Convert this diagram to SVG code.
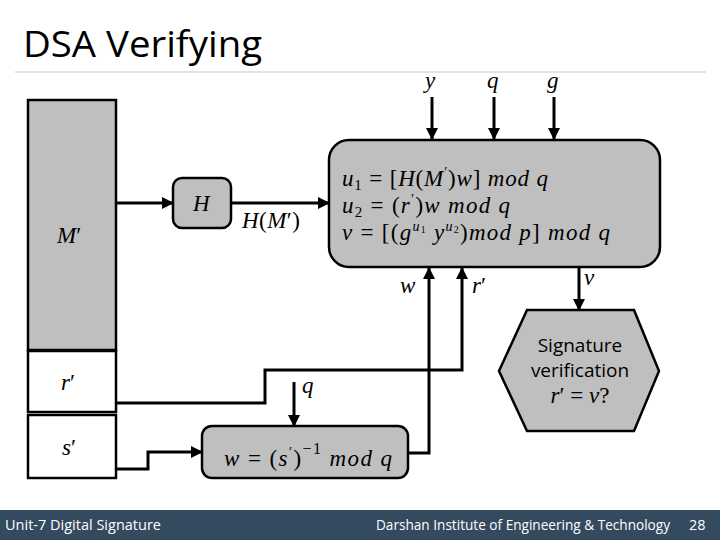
<svg xmlns="http://www.w3.org/2000/svg" width="720" height="540" viewBox="0 0 720 540">
<defs>
<marker id="ah" markerWidth="12" markerHeight="12" refX="11" refY="6" orient="auto" markerUnits="userSpaceOnUse">
<path d="M0,0 L12,6 L0,12 z" fill="#000"/>
</marker>
<style>
.box{fill:#bfbfbf;stroke:#000;stroke-width:2.5}
.cell{fill:#fff;stroke:#000;stroke-width:2.5}
.con{fill:none;stroke:#000;stroke-width:3;marker-end:url(#ah)}
.m{font-family:"Liberation Serif","DejaVu Serif",serif;font-style:italic;font-size:23px;fill:#000}
.n{font-style:normal}
.sub{font-size:15px;font-style:normal}
.sup{font-size:14px}
.lbl{font-family:"Open Sans","Liberation Sans",sans-serif;font-size:19px;fill:#000}
.ft{font-family:"Open Sans","Liberation Sans",sans-serif;font-size:14.5px;fill:#fff}
</style>
</defs>
<rect width="720" height="540" fill="#fff"/>
<text x="23" y="57" font-family="'Open Sans','Liberation Sans',sans-serif" font-size="37" fill="#000" textLength="239" lengthAdjust="spacingAndGlyphs">DSA Verifying</text>
<line x1="15" y1="72" x2="706" y2="72" stroke="#d9d9d9" stroke-width="1.5"/>

<g id="connectors">
<line class="con" x1="432" y1="97" x2="432" y2="139"/>
<line class="con" x1="494" y1="97" x2="494" y2="139"/>
<line class="con" x1="554" y1="97" x2="554" y2="139"/>
<line class="con" x1="116" y1="203" x2="173" y2="203"/>
<line class="con" x1="231" y1="203" x2="329" y2="203"/>
<polyline class="con" points="116,403 265,403 265,370 462,370 462,268"/>
<polyline class="con" points="116,469 148,469 148,452 202,452"/>
<polyline class="con" points="408,453 429,453 429,268"/>
<line class="con" x1="294" y1="382" x2="294" y2="426"/>
<line class="con" x1="579" y1="268" x2="579" y2="310"/>
</g>

<g id="labels" class="m">
<text x="425" y="88">y</text>
<text x="487" y="88">q</text>
<text x="547" y="88">g</text>
<text x="242" y="228" textLength="58" lengthAdjust="spacing">H<tspan class="n">(</tspan>M<tspan class="n">′)</tspan></text>
<text x="400" y="293">w</text>
<text x="472" y="293">r<tspan class="n">′</tspan></text>
<text x="584" y="285">v</text>
<text x="302" y="393">q</text>
</g>

<g id="msg">
<rect class="box" x="28" y="100" width="88" height="250"/>
<text class="m" x="57" y="243">M<tspan class="n">′</tspan></text>
</g>
<g id="rcell">
<rect class="cell" x="28" y="351" width="88" height="61"/>
<text class="m" x="61" y="390">r<tspan class="n">′</tspan></text>
</g>
<g id="scell">
<rect class="cell" x="28" y="415" width="88" height="63"/>
<text class="m" x="62" y="455">s<tspan class="n">′</tspan></text>
</g>

<g id="hash">
<rect class="box" x="173" y="178" width="58" height="50" rx="9"/>
<text class="m" x="193" y="211">H</text>
</g>

<g id="compute">
<rect class="box" x="329" y="140" width="331" height="127" rx="20"/>
<text class="m" x="342" y="186" textLength="206" lengthAdjust="spacing">u<tspan class="sub" dy="4">1</tspan><tspan class="n" dy="-4"> = [</tspan>H<tspan class="n">(</tspan>M<tspan class="sup n" dy="-9">′</tspan><tspan class="n" dy="9">)</tspan>w<tspan class="n">]</tspan> mod q</text>
<text class="m" x="342" y="213" textLength="168" lengthAdjust="spacing">u<tspan class="sub" dy="4">2</tspan><tspan class="n" dy="-4"> = (</tspan>r<tspan class="sup n" dy="-9">′</tspan><tspan class="n" dy="9">)</tspan>w mod q</text>
<text class="m" x="342" y="240" textLength="268" lengthAdjust="spacing">v <tspan class="n">= [(</tspan>g<tspan class="sup" dy="-9">u</tspan><tspan class="n" font-size="10" dy="2">1</tspan><tspan dy="7"> y</tspan><tspan class="sup" dy="-9">u</tspan><tspan class="n" font-size="10" dy="2">2</tspan><tspan class="n" dy="7">)</tspan>mod p<tspan class="n">]</tspan> mod q</text>
</g>

<g id="winv">
<rect class="box" x="202" y="426" width="206" height="52" rx="10"/>
<text class="m" x="224" y="466" textLength="168" lengthAdjust="spacing">w <tspan class="n">= (</tspan>s<tspan class="sup n" dy="-9">′</tspan><tspan class="n" dy="9">)</tspan><tspan class="n" font-size="16" dy="-12">−1</tspan><tspan dy="12"> mod q</tspan></text>
</g>

<g id="verify">
<polygon class="box" points="527,310 634,310 659,371 634,431 527,431 499,371"/>
<text class="lbl" x="580" y="352" text-anchor="middle">Signature</text>
<text class="lbl" x="580" y="377" text-anchor="middle">verification</text>
<text class="m" x="580" y="403" text-anchor="middle">r<tspan class="n">′ = </tspan>v<tspan class="n">?</tspan></text>
</g>

<g id="footer">
<rect x="0" y="510" width="720" height="30" fill="#344a5e"/>
<text class="ft" x="5" y="530" textLength="156" lengthAdjust="spacingAndGlyphs">Unit-7  Digital Signature</text>
<text class="ft" x="376" y="530" textLength="294" lengthAdjust="spacingAndGlyphs">Darshan Institute of Engineering &amp; Technology</text>
<text class="ft" x="689" y="530">28</text>
</g>
</svg>
